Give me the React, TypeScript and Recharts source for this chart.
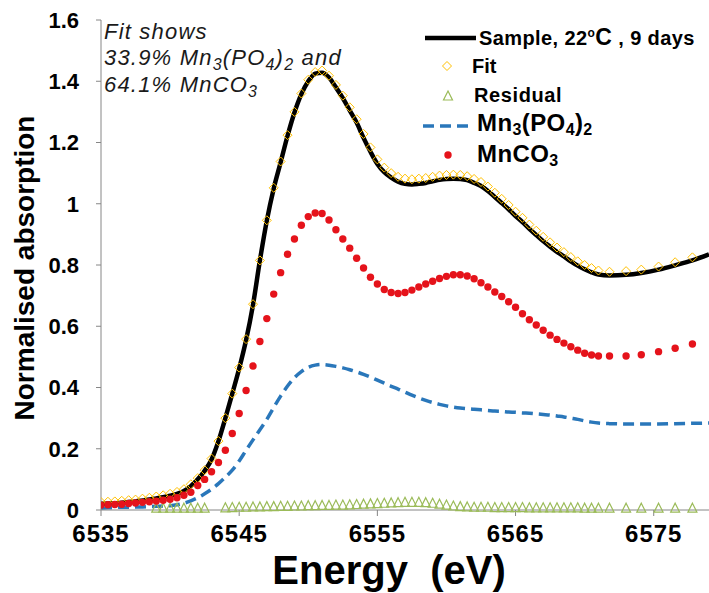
import React from "react";
import { ComposedChart, Line, Scatter, XAxis, YAxis } from "recharts";

// photon energy grid (eV)
const energy = [
  6535, 6535.5, 6536, 6536.5, 6537, 6537.5, 6538, 6538.5, 6539, 6539.5,
  6540, 6540.5, 6541, 6541.5, 6542, 6542.5, 6543, 6543.5, 6544, 6544.5,
  6545, 6545.5, 6546, 6546.5, 6547, 6547.5, 6548, 6548.5, 6549, 6549.5,
  6550, 6550.5, 6551, 6551.5, 6552, 6552.5, 6553, 6553.5, 6554, 6554.5,
  6555, 6555.5, 6556, 6556.5, 6557, 6557.5, 6558, 6558.5, 6559, 6559.5,
  6560, 6560.5, 6561, 6561.5, 6562, 6562.5, 6563, 6563.5, 6564, 6564.5,
  6565, 6565.5, 6566, 6566.5, 6567, 6567.5, 6568, 6568.5, 6569, 6569.5,
  6570, 6570.5, 6571, 6571.8, 6573, 6574.1, 6575.35, 6576.55, 6577.8, 6579,
];

const sample = [
  0.02, 0.021, 0.022, 0.024, 0.026, 0.028, 0.031, 0.034, 0.038, 0.042,
  0.047, 0.053, 0.062, 0.078, 0.1, 0.128, 0.165, 0.225, 0.3, 0.38,
  0.462, 0.555, 0.67, 0.815, 0.945, 1.05, 1.135, 1.222, 1.298, 1.358,
  1.4, 1.425, 1.428, 1.412, 1.38, 1.345, 1.305, 1.265, 1.215, 1.17,
  1.13, 1.103, 1.085, 1.072, 1.065, 1.063, 1.065, 1.068, 1.073, 1.078,
  1.081, 1.082, 1.081, 1.077, 1.068, 1.058, 1.042, 1.022, 1.002, 0.982,
  0.96, 0.94, 0.918, 0.898, 0.878, 0.86, 0.843, 0.828, 0.812, 0.798,
  0.786, 0.776, 0.769, 0.766, 0.768, 0.774, 0.785, 0.799, 0.815, 0.835,
];

const fit = [
  0.026, 0.027, 0.028, 0.03, 0.032, 0.034, 0.037, 0.04, 0.044, 0.048,
  0.053, 0.059, 0.068, 0.084, 0.104, 0.13, 0.168, 0.225, 0.3, 0.38,
  0.465, 0.558, 0.672, 0.815, 0.946, 1.052, 1.138, 1.224, 1.3, 1.36,
  1.405, 1.43, 1.435, 1.418, 1.388, 1.353, 1.315, 1.276, 1.228, 1.184,
  1.145, 1.118, 1.1, 1.088, 1.082, 1.08, 1.082, 1.084, 1.088, 1.092,
  1.094, 1.095, 1.094, 1.09, 1.081, 1.071, 1.056, 1.036, 1.016, 0.996,
  0.974, 0.954, 0.932, 0.912, 0.892, 0.874, 0.857, 0.842, 0.826, 0.812,
  0.8, 0.79, 0.782, 0.778, 0.78, 0.785, 0.795, 0.809, 0.825, null,
];

const residual = [
  null, null, null, null, null, null, null, null, 0.006, 0.006,
  0.006, 0.006, 0.006, 0.006, 0.006, 0.006, null, null, 0.007, 0.008,
  0.009, 0.009, 0.01, 0.01, 0.011, 0.011, 0.012, 0.012, 0.013, 0.013,
  0.014, 0.014, 0.015, 0.015, 0.016, 0.016, 0.017, 0.018, 0.019, 0.02,
  0.021, 0.022, 0.023, 0.024, 0.025, 0.025, 0.025, 0.024, 0.022, 0.019,
  0.016, 0.013, 0.011, 0.01, 0.009, 0.009, 0.009, 0.008, 0.008, 0.008,
  0.008, 0.008, 0.007, 0.007, 0.007, 0.007, 0.007, 0.007, 0.007, 0.007,
  0.006, 0.006, 0.006, 0.006, 0.006, 0.006, 0.006, 0.006, 0.006, null,
];

const mnPhosphate = [
  0.006, 0.007, 0.008, 0.009, 0.009, 0.01, 0.01, 0.011, 0.012, 0.013,
  0.014, 0.017, 0.022, 0.03, 0.04, 0.053, 0.068, 0.086, 0.107, 0.13,
  0.16, 0.195, 0.229, 0.262, 0.296, 0.335, 0.372, 0.405, 0.432, 0.452,
  0.466, 0.473, 0.475, 0.473, 0.469, 0.464, 0.458, 0.451, 0.443, 0.434,
  0.424, 0.414, 0.404, 0.395, 0.385, 0.375, 0.366, 0.358, 0.351, 0.345,
  0.34, 0.336, 0.333, 0.331, 0.329, 0.327, 0.325, 0.323, 0.322, 0.32,
  0.319, 0.317, 0.316, 0.314, 0.312, 0.31, 0.307, 0.304, 0.3, 0.296,
  0.291, 0.287, 0.284, 0.282, 0.281, 0.281, 0.281, 0.282, 0.283, 0.284,
];

const mnCarbonate = [
  0.016, 0.017, 0.018, 0.019, 0.021, 0.023, 0.025, 0.027, 0.029, 0.032,
  0.035, 0.04, 0.048, 0.058, 0.08, 0.1, 0.125, 0.155, 0.195, 0.25,
  0.315, 0.39, 0.47, 0.55, 0.625, 0.705, 0.775, 0.835, 0.885, 0.93,
  0.958, 0.97, 0.968, 0.947, 0.915, 0.885, 0.855, 0.822, 0.79, 0.76,
  0.738, 0.72, 0.71, 0.707, 0.71, 0.718, 0.728, 0.738, 0.747, 0.756,
  0.763, 0.768, 0.768, 0.764, 0.755, 0.742, 0.728, 0.712, 0.697, 0.68,
  0.662, 0.641, 0.621, 0.604, 0.587, 0.571, 0.557, 0.545, 0.533, 0.522,
  0.512, 0.506, 0.503, 0.503, 0.503, 0.507, 0.517, 0.528, 0.542, null,
];

const xTicks = [6535, 6545, 6555, 6565, 6575];
const yTicks = [0, 0.2, 0.4, 0.6, 0.8, 1, 1.2, 1.4, 1.6];

const rows = energy.map((e, i) => ({
  e,
  sample: sample[i],
  fit: fit[i],
  residual: residual[i],
  mnPhosphate: mnPhosphate[i],
  mnCarbonate: mnCarbonate[i],
}));

const FONT = "'Liberation Sans', Arial, sans-serif";
const GOLD = "#FFC000";
const OLIVE = "#9BBB59";
const BLUE = "#2A77BA";
const RED = "#E5131B";

const Diamond = (props: any) => {
  const { cx, cy } = props;
  if (cx == null || cy == null) return null;
  const s = 4.5;
  return (
    <polygon
      points={`${cx},${cy - s} ${cx + s},${cy} ${cx},${cy + s} ${cx - s},${cy}`}
      fill="none"
      stroke={GOLD}
      strokeWidth={1}
    />
  );
};

const Triangle = (props: any) => {
  const { cx, cy } = props;
  if (cx == null || cy == null) return null;
  return (
    <polygon
      points={`${cx},${cy - 5} ${cx + 4.5},${cy + 4} ${cx - 4.5},${cy + 4}`}
      fill="none"
      stroke={OLIVE}
      strokeWidth={1.2}
    />
  );
};

const Dot = (props: any) => {
  const { cx, cy } = props;
  if (cx == null || cy == null) return null;
  return <circle cx={cx} cy={cy} r={3.7} fill={RED} />;
};

const Overlay = () => (
  <svg
    width={709}
    height={593}
    style={{ position: "absolute", left: 0, top: 0, pointerEvents: "none" }}
    fontFamily={FONT}
  >
    {/* note in top left */}
    <g fontSize={22} fontStyle="italic" fill="#1a1a1a" letterSpacing={1.2}>
      <text x={104} y={39}>Fit shows</text>
      <text x={104} y={65}>
        33.9% Mn<tspan fontSize={16} dy={5}>3</tspan>
        <tspan dy={-5}>(PO</tspan>
        <tspan fontSize={16} dy={5}>4</tspan>
        <tspan dy={-5}>)</tspan>
        <tspan fontSize={16} dy={5}>2</tspan>
        <tspan dy={-5}> and</tspan>
      </text>
      <text x={104} y={92}>
        64.1% MnCO<tspan fontSize={16} dy={5}>3</tspan>
      </text>
    </g>

    {/* legend */}
    <g fontWeight={700} fill="#000">
      <line x1={425} x2={476} y1={38} y2={38} stroke="#000" strokeWidth={4.5} />
      <text x={479} y={45} fontSize={20} letterSpacing={0.4}>
        Sample, 22<tspan fontSize={12} dy={-8}>o</tspan>
        <tspan fontSize={23} dy={8}>C</tspan>
        <tspan fontSize={20}> , 9 days</tspan>
      </text>
      <Diamond cx={447} cy={66} />
      <text x={472} y={73} fontSize={20}>Fit</text>
      <Triangle cx={448} cy={96} />
      <text x={474} y={102} fontSize={20} letterSpacing={0.6}>Residual</text>
      <line x1={423} x2={470} y1={126} y2={126} stroke={BLUE} strokeWidth={3.5} strokeDasharray="11 6" />
      <text x={477} y={131} fontSize={24} letterSpacing={0.4}>
        Mn<tspan fontSize={16} dy={4}>3</tspan>
        <tspan dy={-4}>(PO</tspan>
        <tspan fontSize={16} dy={4}>4</tspan>
        <tspan dy={-4}>)</tspan>
        <tspan fontSize={16} dy={4}>2</tspan>
      </text>
      <Dot cx={448} cy={155} />
      <text x={477} y={162} fontSize={24} letterSpacing={0.4}>
        MnCO<tspan fontSize={16} dy={4}>3</tspan>
      </text>
    </g>

    {/* axis titles */}
    <text
      x={389}
      y={584}
      textAnchor="middle"
      fontSize={40}
      fontWeight={700}
      style={{ whiteSpace: "pre" }}
    >
      {"Energy  (eV)"}
    </text>
    <text
      transform="translate(34,268) rotate(-90)"
      textAnchor="middle"
      fontSize={28}
      fontWeight={700}
    >
      Normalised absorption
    </text>
  </svg>
);

export default function App() {
  const tickStyle = { fill: "#000", fontSize: 22, fontWeight: 700, fontFamily: FONT };
  return (
    <div style={{ position: "absolute", left: 0, top: 0, width: 709, height: 593, background: "#fff" }}>
      <ComposedChart
        width={709}
        height={593}
        data={rows}
        margin={{ top: 20, right: 0, bottom: 0, left: 0 }}
      >
        <XAxis
          dataKey="e"
          type="number"
          domain={[6535, 6579]}
          ticks={xTicks}
          allowDataOverflow
          height={83}
          stroke="#868686"
          tickSize={6}
          tickMargin={9}
          tick={{ ...tickStyle, fontSize: 24, letterSpacing: 1 }}
        />
        <YAxis
          type="number"
          domain={[0, 1.6]}
          ticks={yTicks}
          width={101}
          stroke="#868686"
          tickSize={5}
          tickMargin={17}
          tickFormatter={(v: number) => String(v)}
          tick={tickStyle}
        />
        <Line
          dataKey="sample"
          type="monotone"
          stroke="#000"
          strokeWidth={4.5}
          dot={false}
          isAnimationActive={false}
        />
        <Scatter
          data={rows.filter((r) => r.fit != null)}
          dataKey="fit"
          shape={Diamond}
          isAnimationActive={false}
        />
        <Scatter
          data={rows.filter((r) => r.residual != null)}
          dataKey="residual"
          shape={Triangle}
          isAnimationActive={false}
        />
        <Line
          dataKey="mnPhosphate"
          type="monotone"
          stroke={BLUE}
          strokeWidth={3.5}
          strokeDasharray="11 6"
          dot={false}
          isAnimationActive={false}
        />
        <Scatter
          data={rows.filter((r) => r.mnCarbonate != null)}
          dataKey="mnCarbonate"
          shape={Dot}
          isAnimationActive={false}
        />
      </ComposedChart>
      <Overlay />
    </div>
  );
}
